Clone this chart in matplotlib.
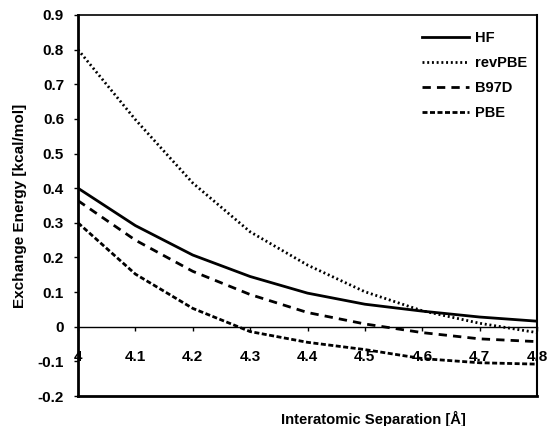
import matplotlib
matplotlib.use("Agg")
import matplotlib.pyplot as plt

plt.rcParams['font.family'] = ['Liberation Sans', 'DejaVu Sans']

separation = [4.0, 4.1, 4.2, 4.3, 4.4, 4.5, 4.6, 4.7, 4.8]
hf = [0.40, 0.292, 0.207, 0.145, 0.097, 0.065, 0.045, 0.028, 0.016]
revpbe = [0.80, 0.598, 0.415, 0.274, 0.178, 0.101, 0.046, 0.010, -0.017]
b97d = [0.364, 0.250, 0.160, 0.093, 0.041, 0.008, -0.017, -0.035, -0.043]
pbe = [0.30, 0.152, 0.053, -0.014, -0.045, -0.066, -0.092, -0.104, -0.108]

xticks = [4.0, 4.1, 4.2, 4.3, 4.4, 4.5, 4.6, 4.7, 4.8]
xticklabels = ["4", "4.1", "4.2", "4.3", "4.4", "4.5", "4.6", "4.7", "4.8"]
yticks = [-0.2, -0.1, 0, 0.1, 0.2, 0.3, 0.4, 0.5, 0.6, 0.7, 0.8, 0.9]
yticklabels = ["-0.2", "-0.1", "0", "0.1", "0.2", "0.3", "0.4", "0.5", "0.6", "0.7", "0.8", "0.9"]

fig = plt.figure(figsize=(5.48, 4.26), dpi=100)
ax = fig.add_axes([78/548, 1-396/426, (537-78)/548, (396-15)/426])

ax.plot(separation, hf, color='black', lw=2.0, ls='-', label='HF')
ax.plot(separation, revpbe, color='black', lw=2.0, dashes=(0.7, 1.0), label='revPBE')
ax.plot(separation, b97d, color='black', lw=2.0, dashes=(3.0, 2.2), label='B97D')
ax.plot(separation, pbe, color='black', lw=2.0, dashes=(1.8, 0.9), label='PBE')

ax.set_xlim(4.0, 4.8)
ax.set_ylim(-0.2, 0.9)

ax.spines['bottom'].set_position(('data', 0))
ax.spines['bottom'].set_linewidth(1.0)
ax.spines['left'].set_linewidth(2.0)
ax.spines['top'].set_linewidth(1.2)
ax.spines['right'].set_linewidth(1.5)
ax.axhline(-0.2, color='black', lw=2.0, clip_on=False, zorder=5)

ax.set_xticks(xticks)
ax.set_xticklabels(xticklabels, fontsize=11, fontweight='bold')
ax.set_yticks(yticks)
ax.set_yticklabels(yticklabels, fontsize=11, fontweight='bold')
ax.tick_params(axis='x', direction='out', length=3, width=1, pad=14)
ax.tick_params(axis='y', direction='out', length=3, width=1, pad=7)

ax.set_ylabel('Exchange Energy [kcal/mol]', fontsize=11, fontweight='bold', labelpad=8)
fig.text(373/548, 1-419/426, 'Interatomic Separation [Å]', fontsize=10.7,
         fontweight='bold', ha='center', va='center')

leg = ax.legend(loc='upper right', frameon=False,
                prop={'weight': 'bold', 'size': 10.5},
                handlelength=3.2, handletextpad=0.4, labelspacing=0.75,
                bbox_to_anchor=(1.0, 0.985), borderaxespad=0.3)

fig.savefig('out.png', dpi=100)
